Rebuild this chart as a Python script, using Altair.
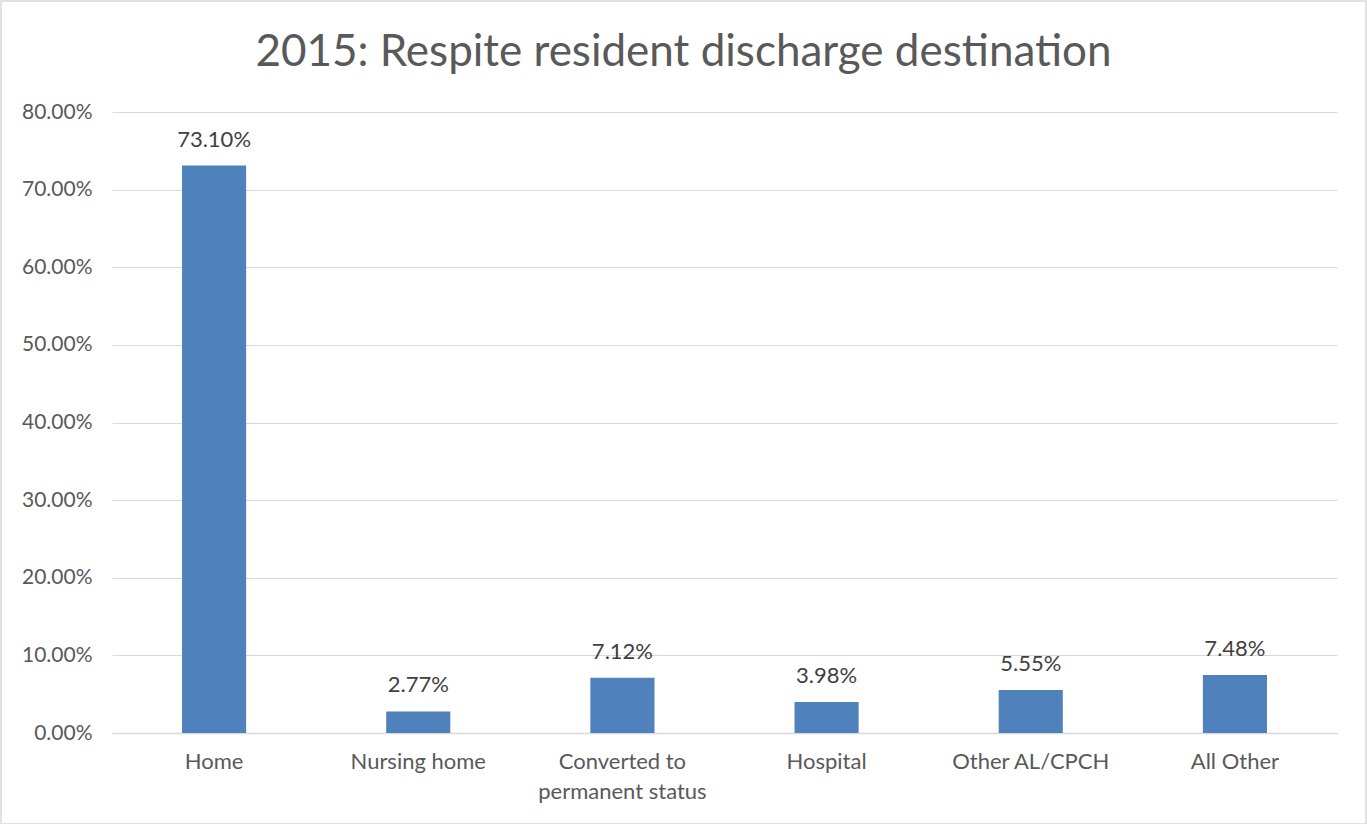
import altair as alt
import pandas as pd

categories = ["Home", "Nursing home", "Converted to|permanent status", "Hospital", "Other AL/CPCH", "All Other"]
values = [0.7310, 0.0277, 0.0712, 0.0398, 0.0555, 0.0748]

df = pd.DataFrame({"category": categories, "value": values})

FONT = "Lato"
GREY = "#595959"

base = alt.Chart(df).encode(
    x=alt.X("category:N", sort=None,
            axis=alt.Axis(title=None, labelAngle=0, labelFontSize=22, labelColor=GREY,
                          labelFont=FONT, labelPadding=18, ticks=False,
                          domainColor="#D9D9D9", domainWidth=1.5,
                          labelExpr="split(datum.label, '|')", labelLineHeight=30),
            scale=alt.Scale(paddingInner=0.686, paddingOuter=0.343)),
    y=alt.Y("value:Q",
            scale=alt.Scale(domain=[0, 0.8], nice=False),
            axis=alt.Axis(title=None, format=".2%",
                          values=[0, 0.1, 0.2, 0.3, 0.4, 0.5, 0.6, 0.7, 0.8],
                          labelOverlap=False,
                          labelFontSize=21, labelColor=GREY, labelFont=FONT,
                          labelPadding=20, ticks=False, domain=False,
                          gridColor="#D9D9D9", gridWidth=1.2)),
)

bars = base.mark_bar(color="#4F81BD")
labels = base.mark_text(baseline="bottom", dy=-14, fontSize=22, color="#404040", font=FONT).encode(
    text=alt.Text("value:Q", format=".2%")
)

border = alt.Chart(pd.DataFrame({"b": [0]})).mark_rect(
    fill=None, stroke="#D9D9D9", strokeWidth=1.5
).encode(x=alt.value(-111), x2=alt.value(1254), y=alt.value(-111), y2=alt.value(712))

chart = (border + bars + labels).properties(
    width=1225, height=621,
    title=alt.TitleParams("2015: Respite resident discharge destination", fontSize=44,
                          font=FONT, fontWeight="normal", color=GREY, anchor="middle",
                          baseline="alphabetic", dx=-41, dy=110, offset=0),
    autosize=alt.AutoSizeParams(type="none"),
    padding={"left": 112, "top": 112, "right": 30, "bottom": 91},
).configure(background="white").configure_view(stroke=None)

chart.save("out.html", embed_options={"renderer": "svg", "actions": False})
